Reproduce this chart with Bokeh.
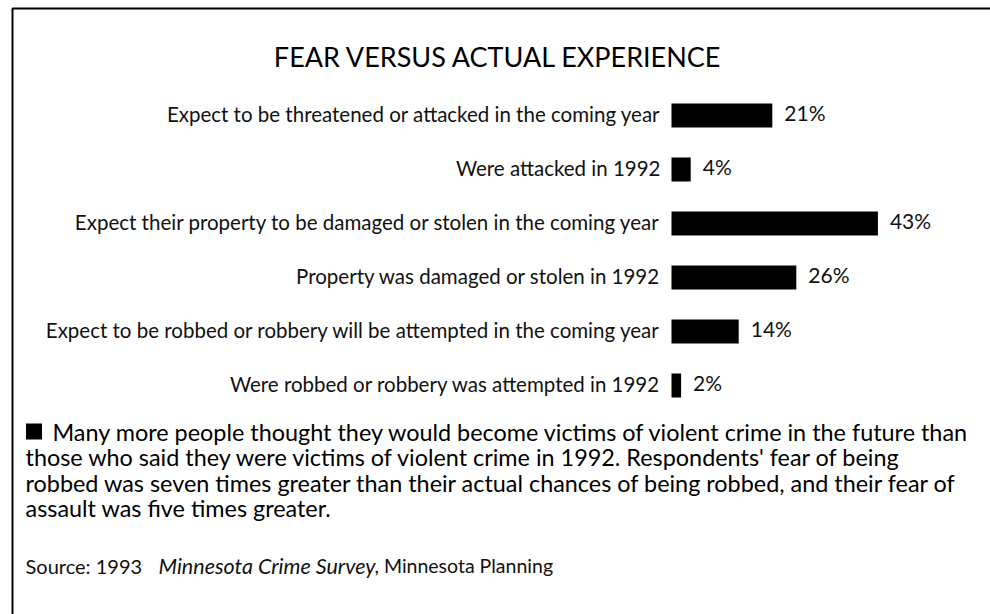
from bokeh.plotting import figure
from bokeh.models import Range1d, Label, ColumnDataSource
from bokeh.embed import file_html
from bokeh.resources import INLINE
from bokeh.core.properties import value

# ---- data ----
categories = [
    "Expect to be threatened or attacked in the coming year",
    "Were attacked in 1992",
    "Expect their property to be damaged or stolen in the coming year",
    "Property was damaged or stolen in 1992",
    "Expect to be robbed or robbery will be attempted in the coming year",
    "Were robbed or robbery was attempted in 1992",
]
percent = [21, 4, 43, 26, 14, 2]
value_labels = ["21%", "4%", "43%", "26%", "14%", "2%"]

title_text = "FEAR VERSUS ACTUAL EXPERIENCE"
note_lines = [
    "Many more people thought they would become victims of violent crime in the future than",
    "those who said they were victims of violent crime in 1992. Respondents' fear of being",
    "robbed was seven times greater than their actual chances of being robbed, and their fear of",
    "assault was five times greater.",
]
source_parts = ["Source: 1993 ", "Minnesota Crime Survey", ", Minnesota Planning"]

FONT = "Lato"
W, H = 990, 614

# layout: bar origin at pixel 671, ~4.8 px per percent; rows 54 px apart starting at 115
PX_PER_PCT = 4.8
ORIGIN_PX = 671
ROW0_PX, ROW_STEP = 115, 54
x0 = -ORIGIN_PX / PX_PER_PCT
x1 = (W - ORIGIN_PX) / PX_PER_PCT
y_top = -ROW0_PX / ROW_STEP
y_bot = (H - ROW0_PX) / ROW_STEP

def px_x(px):
    return x0 + px / W * (x1 - x0)

def px_y(py):
    return (py - ROW0_PX) / ROW_STEP

p = figure(width=W, height=H, output_backend="svg", toolbar_location=None,
           x_range=Range1d(x0, x1), y_range=Range1d(y_bot, y_top),
           x_axis_location=None, y_axis_location=None,
           min_border=0, min_border_left=0, min_border_right=0,
           min_border_top=0, min_border_bottom=0)
p.grid.visible = False
p.outline_line_color = None
p.background_fill_color = "white"
p.border_fill_color = "white"

src = ColumnDataSource(dict(idx=list(range(len(categories))), cat=categories,
                            val=percent, lab=value_labels))

p.hbar(y="idx", left=0, right="val", height=24 / ROW_STEP, source=src,
       fill_color="black", line_color=None)

p.text(x=0, y="idx", text="cat", source=src, x_offset=-11, y_offset=-2,
       text_align="right", text_baseline="middle",
       text_font=value(FONT), text_font_size="20.5px", text_color="#111111")

p.text(x="val", y="idx", text="lab", source=src, x_offset=12, y_offset=-3,
       text_align="left", text_baseline="middle",
       text_font=value(FONT), text_font_size="21px", text_color="#111111")

# border (decoration, only top and left edges are visible in the reference)
p.line(x=[px_x(12), px_x(12), px_x(W + 20)], y=[px_y(H + 20), px_y(8), px_y(8)],
       line_color="black", line_width=2)

# title
p.add_layout(Label(x=498, y=H - 56, x_units="screen", y_units="screen",
                   text=title_text, text_align="center", text_baseline="middle",
                   text_font=FONT, text_font_size="27px",
                   text_color="black"))

# bullet square before the note
p.scatter(x=[px_x(33.5)], y=[px_y(431)], marker="square", size=16,
          fill_color="black", line_color=None)

# note paragraph
for i, line in enumerate(note_lines):
    lx = 52 if i == 0 else 25
    p.add_layout(Label(x=lx, y=H - (431 + 25.5 * i), x_units="screen", y_units="screen",
                       text=line, text_align="left", text_baseline="middle",
                       text_font=FONT, text_font_size="23.4px", text_color="black"))

# source line
src_x = [25, 158, 374]
src_size = ["20px", "21.5px", "19.5px"]
src_style = ["normal", "italic", "normal"]
for part, sx, fs, st in zip(source_parts, src_x, src_size, src_style):
    p.add_layout(Label(x=sx, y=H - 565, x_units="screen", y_units="screen",
                       text=part, text_align="left", text_baseline="middle",
                       text_font=FONT, text_font_size=fs, text_font_style=st,
                       text_color="#111111"))

open("out.html", "w").write(file_html(p, INLINE))
